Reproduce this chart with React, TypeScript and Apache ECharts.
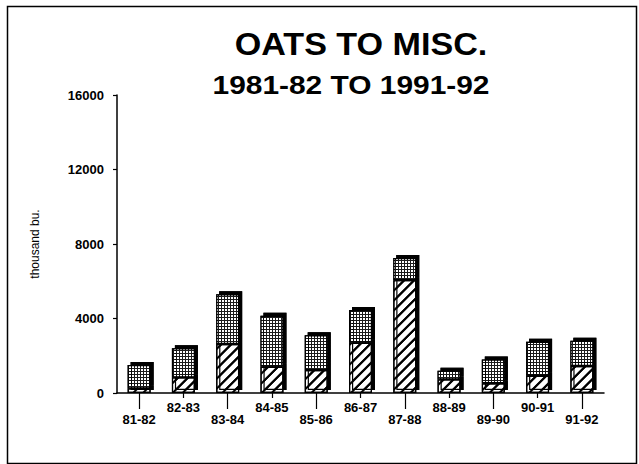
import React, { useEffect, useRef } from "react";
import * as echarts from "echarts";

const categories = ["81-82", "82-83", "83-84", "84-85", "85-86", "86-87", "87-88", "88-89", "89-90", "90-91", "91-92"];
const hatchedValues = [250, 840, 2630, 1410, 1230, 2700, 6060, 730, 520, 930, 1450];
const dottedValues = [1250, 1560, 2670, 2740, 1870, 1750, 1190, 470, 1280, 1820, 1350];
const yTicks = { min: 0, max: 16000, interval: 4000 };
const titleText = "OATS TO MISC.";
const subtitleText = "1981-82 TO 1991-92";
const yAxisTitle = "thousand bu.";

const FONT = "Arial, 'Liberation Sans', Helvetica, sans-serif";

export default function App() {
  const ref = useRef<HTMLDivElement>(null);
  useEffect(() => {
    if (!ref.current) return;
    const chart = echarts.init(ref.current, null, { renderer: "svg" });
    const barStyle = {
      borderColor: "#000",
      borderWidth: 1.2,
      shadowColor: "#000",
      shadowBlur: 0,
      shadowOffsetX: 3,
      shadowOffsetY: -3,
    };
    chart.setOption({
      animation: false,
      backgroundColor: "#fff",
      textStyle: { fontFamily: FONT, color: "#000" },
      graphic: [
        {
          type: "rect",
          left: 5,
          top: 4,
          shape: { width: 629, height: 457 },
          style: { fill: "none", stroke: "#000", lineWidth: 1.5 },
          silent: true,
        },
        {
          type: "text",
          x: 361,
          y: 45,
          scaleX: 1.1,
          style: {
            text: titleText,
            font: `bold 31px ${FONT}`,
            fill: "#000",
            align: "center",
            verticalAlign: "middle",
          },
        },
        {
          type: "text",
          x: 351,
          y: 85,
          scaleX: 1.15,
          style: {
            text: subtitleText,
            font: `bold 26px ${FONT}`,
            fill: "#000",
            align: "center",
            verticalAlign: "middle",
          },
        },
      ],
      grid: { left: 117, right: 35, top: 95, bottom: 71, containLabel: false },
      xAxis: [
        {
          type: "category",
          data: categories,
          position: "bottom",
          axisLine: { show: true, lineStyle: { color: "#000", width: 1.5 } },
          axisTick: {
            show: true,
            alignWithLabel: true,
            length: 16,
            interval: (i: number) => i % 2 === 0,
            lineStyle: { color: "#000", width: 1.2 },
          },
          axisLabel: {
            interval: 0,
            margin: 8,
            color: "#000",
            fontFamily: FONT,
            fontSize: 13,
            fontWeight: "bold",
            lineHeight: 12,
            formatter: (v: string, i: number) => (i % 2 === 0 ? "\n" + v : v),
          },
        },
        {
          type: "category",
          data: categories,
          position: "bottom",
          axisLine: { show: false },
          axisTick: {
            show: true,
            alignWithLabel: true,
            length: 5,
            interval: (i: number) => i % 2 === 1,
            lineStyle: { color: "#000", width: 1.2 },
          },
          axisLabel: { show: false },
        },
      ],
      yAxis: {
        type: "value",
        min: yTicks.min,
        max: yTicks.max,
        interval: yTicks.interval,
        name: yAxisTitle,
        nameLocation: "middle",
        nameRotate: 90,
        nameGap: 76,
        nameTextStyle: { fontFamily: FONT, fontSize: 12, color: "#000", align: "center" },
        axisLine: { show: true, lineStyle: { color: "#000", width: 1.5 } },
        axisTick: { show: true, length: 4, lineStyle: { color: "#000", width: 1.2 } },
        splitLine: { show: false },
        axisLabel: {
          margin: 13,
          color: "#000",
          fontFamily: FONT,
          fontSize: 13,
          fontWeight: "bold",
          formatter: (v: number) => String(v),
        },
      },
      series: [
        {
          name: "hatched",
          type: "bar",
          stack: "total",
          barWidth: 23,
          data: hatchedValues,
          itemStyle: {
            ...barStyle,
            color: "#fff",
            decal: {
              symbol: "rect",
              symbolSize: 1,
              color: "#000",
              dashArrayX: [1, 0],
              dashArrayY: [1.3, 4.5],
              rotation: -Math.PI / 4,
            },
          },
        },
        {
          name: "dotted",
          type: "bar",
          stack: "total",
          barWidth: 23,
          data: dottedValues,
          itemStyle: {
            ...barStyle,
            color: "#1a1a1a",
            decal: {
              symbol: "rect",
              symbolSize: 1,
              color: "#fff",
              dashArrayX: [2, 1],
              dashArrayY: [2, 1],
              rotation: 0,
            },
          },
        },
      ],
    });
    return () => chart.dispose();
  }, []);
  return <div ref={ref} style={{ position: "fixed", left: 0, top: 0, width: 639, height: 464 }} />;
}
